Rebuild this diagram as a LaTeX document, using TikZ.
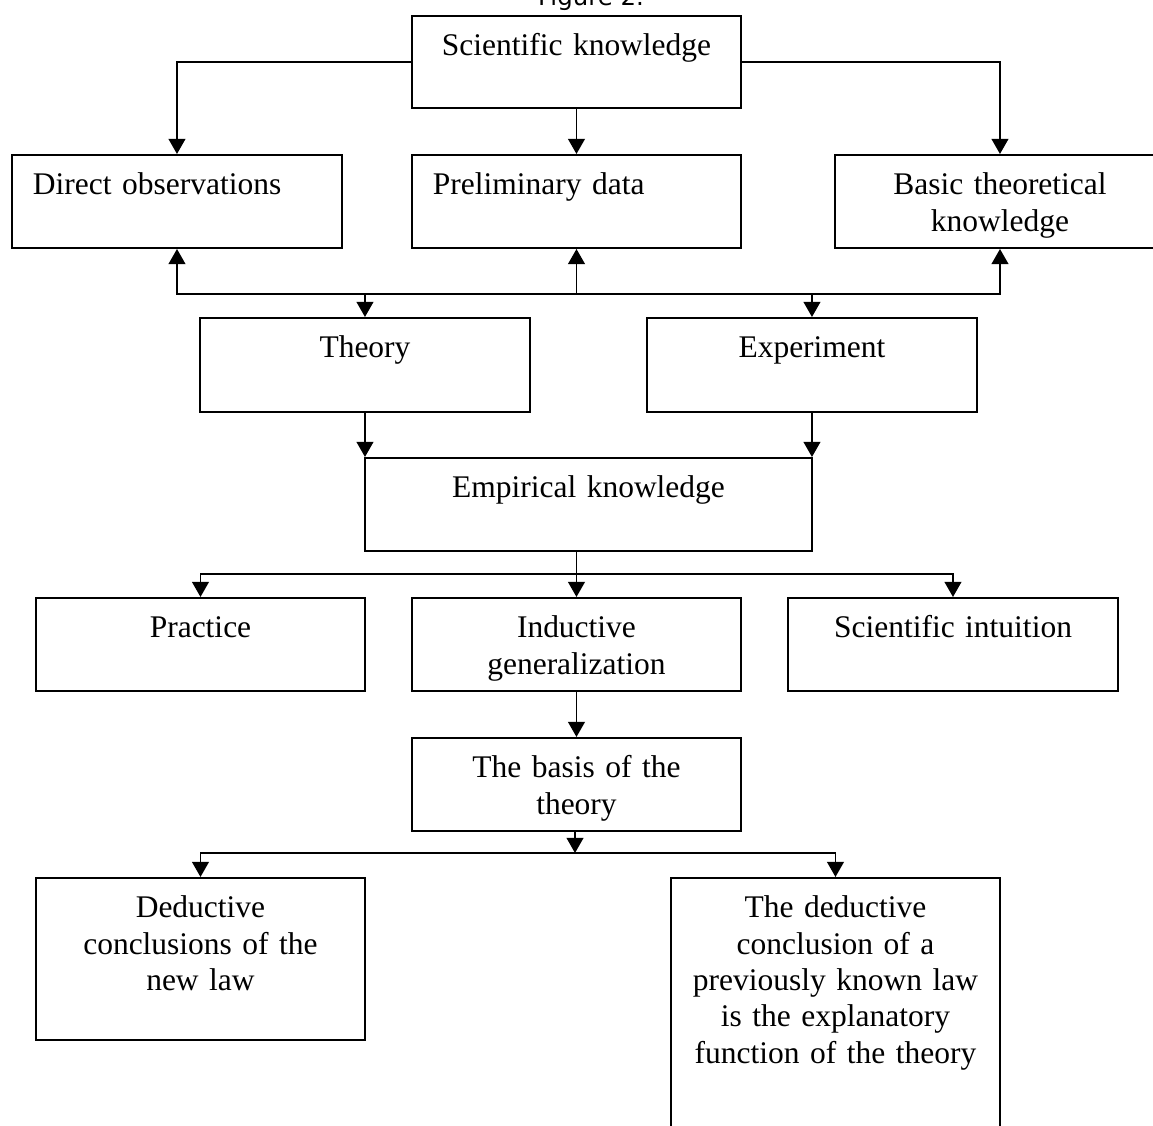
\documentclass[tikz,border=0pt]{standalone}
\usepackage{fontspec}
\setmainfont{Liberation Serif}
\newfontfamily\figfont{DejaVu Sans}
\usepackage{tikz}
\usetikzlibrary{arrows.meta}

\newcommand{\px}{0.381pt}

\begin{document}
\begin{tikzpicture}[
    x=\px, y=-\px,
    >={Triangle[length=5.8pt,width=6.4pt]},
    conceptbox/.style 2 args={draw, line width=0.75pt, rectangle, anchor=north west, inner xsep=0pt, inner ysep=0pt, text width=#1*\px, align=center, text height=40*\px, text depth=(#2-40)*\px, font=\fontsize{12}{13.83}\selectfont},
    leftbox/.style 2 args={conceptbox={#1}{#2}, align=left, inner xsep=21*\px, text width=(#1-42)*\px},
    link/.style={line width=0.75pt}
]
    \useasboundingbox (0,0) rectangle (1153,1126);

    \node[font=\figfont\fontsize{9.3}{11}\selectfont, anchor=base] (FIG) at (591,6) {Figure 2.};

    % top level
    \node[conceptbox={329}{92}] (SK) at (411,15) {Scientific knowledge};
    \node[leftbox={330}{93}] (DO) at (11,154) {Direct observations};
    \node[leftbox={329}{93}] (PD) at (411,154) {Preliminary data};
    \node[conceptbox={330}{93}] (BT) at (834,154) {Basic theoretical\\knowledge};

    \draw[link,->] (SK.west) -| (DO.north);
    \draw[link,->] (SK) -- (PD);
    \draw[link,->] (SK.east) -| (BT.north);

    % theory and experiment
    \node[conceptbox={330}{94}] (TH) at (199,317) {Theory};
    \node[conceptbox={330}{94}] (EX) at (646,317) {Experiment};

    \coordinate (upbus) at (575,294);
    \draw[link,<->] (DO.south) -- (DO.south |- upbus) -- (BT.south |- upbus) -- (BT.south);
    \draw[link,<-] (PD.south) -- (PD.south |- upbus);
    \draw[link,->] (TH.north |- upbus) -- (TH.north);
    \draw[link,->] (EX.north |- upbus) -- (EX.north);

    \node[conceptbox={447}{93}] (EK) at (364,457) {Empirical knowledge};
    \draw[link,->] (TH.south) -- (TH.south |- EK.north);
    \draw[link,->] (EX.south) -- (EX.south |- EK.north);

    % second level
    \node[conceptbox={329}{93}] (PR) at (35,597) {Practice};
    \node[conceptbox={329}{93}] (IG) at (411,597) {Inductive\\generalization};
    \node[conceptbox={330}{93}] (SI) at (787,597) {Scientific intuition};

    \coordinate (midbus) at (575,574);
    \draw[link,->] (IG.north |- EK.south) -- (IG.north);
    \draw[link,->] (midbus) -| (PR.north);
    \draw[link,->] (midbus) -| (SI.north);

    \node[conceptbox={329}{93}] (BA) at (411,737) {The basis of the\\theory};
    \draw[link,->] (IG) -- (BA);

    % conclusions
    \node[conceptbox={329}{162}] (DN) at (35,877) {Deductive\\conclusions of the\\new law};
    \node[conceptbox={329}{260}] (DP) at (670,877) {The deductive\\conclusion of a\\previously known law\\is the explanatory\\function of the theory};

    \coordinate (lowbus) at (575,853);
    \draw[link,->] (BA.south -| lowbus) -- (lowbus);
    \draw[link,->] (lowbus) -| (DN.north);
    \draw[link,->] (lowbus) -| (DP.north);
\end{tikzpicture}
\end{document}
